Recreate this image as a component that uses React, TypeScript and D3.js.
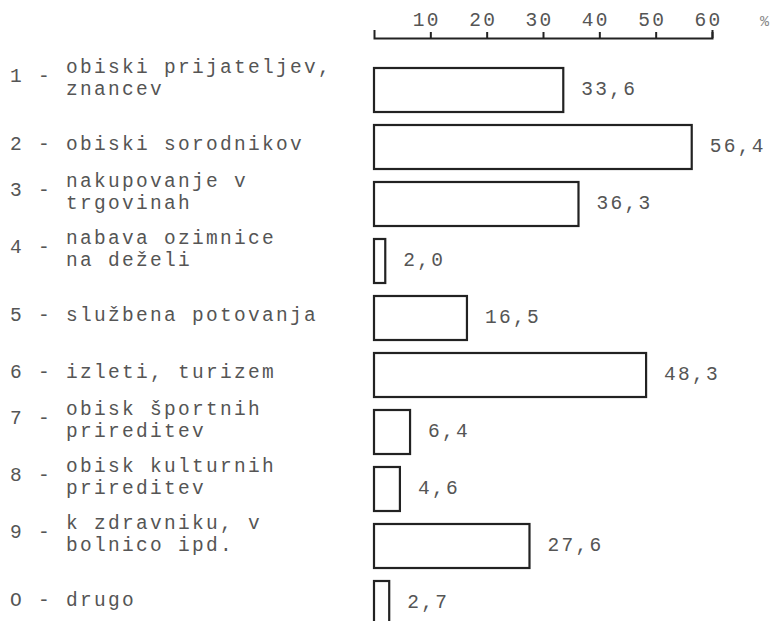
import React, { useEffect, useRef } from 'react';
import * as d3 from 'd3';

// codes and labels (typewritten, some on two lines)
const codes = ['1', '2', '3', '4', '5', '6', '7', '8', '9', 'O'];
const labels = [
  ['obiski prijateljev,', 'znancev'],
  ['obiski sorodnikov'],
  ['nakupovanje v', 'trgovinah'],
  ['nabava ozimnice', 'na deželi'],
  ['službena potovanja'],
  ['izleti, turizem'],
  ['obisk športnih', 'prireditev'],
  ['obisk kulturnih', 'prireditev'],
  ['k zdravniku, v', 'bolnico ipd.'],
  ['drugo'],
];
const values = [33.6, 56.4, 36.3, 2.0, 16.5, 48.3, 6.4, 4.6, 27.6, 2.7];
const ticks = [10, 20, 30, 40, 50, 60];

const W = 770;
const H = 621;
const FONT = "'Liberation Mono', 'DejaVu Sans Mono', monospace";
const INK = '#222';
const TXT = '#555';

const fmt = (v: number) => v.toFixed(1).replace('.', ',');

const App = () => {
  const svgRef = useRef<SVGSVGElement>(null);

  useEffect(() => {
    const svg = d3.select(svgRef.current);
    svg.selectAll('*').remove();

    const x = d3.scaleLinear().domain([0, 60]).range([374, 712]);
    const y = d3
      .scaleBand()
      .domain(codes)
      .range([61.5, 631.5])
      .paddingInner(0.228)
      .paddingOuter(0.114);

    const typed = (sel: any) =>
      sel
        .attr('fill', TXT)
        .style('font-family', FONT)
        .style('font-size', '19.5px')
        .style('letter-spacing', '2.3px');

    // axis on top
    const axis = svg
      .append('g')
      .attr('transform', 'translate(0,38)')
      .call(
        d3
          .axisTop(x)
          .tickValues(ticks)
          .tickSizeInner(6)
          .tickSizeOuter(8)
          .tickPadding(6)
          .tickFormat(d => String(d))
      );
    axis.select('.domain').attr('stroke', INK).attr('stroke-width', 2);
    axis.selectAll('.tick line').attr('stroke', INK).attr('stroke-width', 2);
    axis.selectAll('.tick text').call(typed).attr('dx', -4);

    svg
      .append('text')
      .attr('x', 760)
      .attr('y', 26)
      .attr('fill', '#888')
      .style('font-family', FONT)
      .style('font-size', '15px')
      .text('%');

    const rows = svg
      .selectAll('g.row')
      .data(codes)
      .enter()
      .append('g')
      .attr('class', 'row');

    rows
      .append('rect')
      .attr('x', x(0))
      .attr('y', d => y(d)!)
      .attr('width', (d, i) => x(values[i]) - x(0))
      .attr('height', y.bandwidth())
      .attr('fill', 'none')
      .attr('stroke', INK)
      .attr('stroke-width', 2.2);

    rows
      .append('text')
      .attr('x', (d, i) => x(values[i]) + 18)
      .attr('y', d => y(d)! + y.bandwidth() / 2)
      .attr('dominant-baseline', 'central')
      .call(typed)
      .text((d, i) => fmt(values[i]));

    // left labels
    rows.each(function (d, i) {
      const g = d3.select(this);
      const c = y(d)! + y.bandwidth() / 2;
      const lines = labels[i];
      const two = lines.length > 1;
      g.append('text')
        .attr('x', 10)
        .attr('y', two ? c - 13 : c - 2)
        .attr('dominant-baseline', 'central')
        .call(typed)
        .text(d + ' -');
      lines.forEach((t, j) => {
        g.append('text')
          .attr('x', 66)
          .attr('y', two ? c - 22 + j * 22 : c - 2)
          .attr('dominant-baseline', 'central')
          .call(typed)
          .text(t);
      });
    });
  }, []);

  return (
    <svg
      ref={svgRef}
      width={W}
      height={H}
      style={{ position: 'absolute', left: 0, top: 0, background: '#fff' }}
    ></svg>
  );
};

export default App;
